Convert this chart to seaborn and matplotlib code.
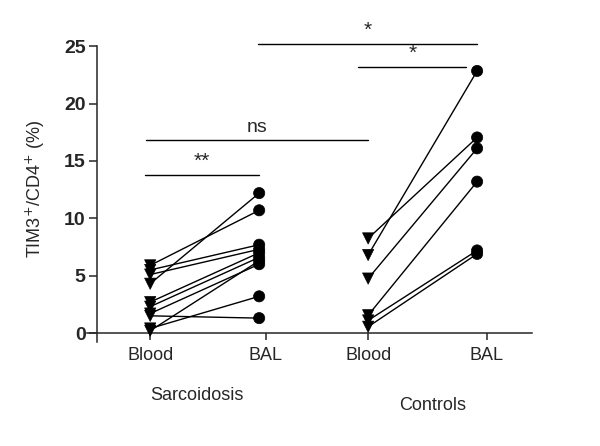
import numpy as np
import pandas as pd
import seaborn as sns
import matplotlib
matplotlib.use("Agg")
import matplotlib.pyplot as plt

sns.set_style("ticks")
plt.rcParams['font.family'] = ['Liberation Sans', 'DejaVu Sans']

# paired values, TIM3+/CD4+ (%)
sarc_blood = [5.9, 5.5, 5.1, 4.3, 2.7, 2.3, 1.7, 1.5, 0.4, 0.2]
sarc_bal = [10.7, 7.7, 7.3, 12.2, 7.0, 6.6, 6.0, 1.3, 3.2, 6.3]
ctrl_blood = [8.25, 6.8, 4.75, 1.55, 1.1, 0.55]
ctrl_bal = [17.05, 22.85, 16.1, 13.2, 7.2, 6.9]

tick_labels = ["Blood", "BAL", "Blood", "BAL"]
groups = ["Sarcoidosis", "Controls"]

# significance brackets: (x0, x1, y, label)
brackets = [(-0.05, 1.0, 13.8, "**"),
            (-0.04, 2.0, 16.8, "ns"),
            (1.91, 2.9, 23.2, "*"),
            (0.99, 3.0, 25.2, "*")]

rows = []
for i, (b, l) in enumerate(zip(sarc_blood, sarc_bal)):
    rows.append(dict(subj=f"s{i}", pos=0, val=b, tissue="Blood"))
    rows.append(dict(subj=f"s{i}", pos=1, val=l, tissue="BAL"))
for i, (b, l) in enumerate(zip(ctrl_blood, ctrl_bal)):
    rows.append(dict(subj=f"c{i}", pos=2, val=b, tissue="Blood"))
    rows.append(dict(subj=f"c{i}", pos=3, val=l, tissue="BAL"))
df = pd.DataFrame(rows)

fig = plt.figure(figsize=(6, 4.46), dpi=100)
ax = fig.add_axes([0.145, 0.2327, 0.741, 0.715])

sns.lineplot(data=df, x="pos", y="val", units="subj", estimator=None,
             color="black", lw=1, ax=ax, legend=False)
sns.scatterplot(data=df, x="pos", y="val", style="tissue",
                markers={"Blood": "v", "BAL": "o"}, color="black",
                s=65, edgecolor="black", linewidth=0.5, zorder=3,
                ax=ax, legend=False)

for x0, x1, y, lab in brackets:
    ax.plot([x0, x1], [y, y], color="black", lw=1, clip_on=False)
    ax.text((x0 + x1) / 2, y + 0.35, lab, ha="center", va="bottom",
            fontsize=14 if lab == "ns" else 15)

ax.set_xlim(-0.58, 3.5)
ax.set_ylim(-0.8, 27)
ax.spines['top'].set_visible(False)
ax.spines['right'].set_visible(False)
ax.spines['left'].set_position(('data', -0.49))
ax.spines['left'].set_bounds(-0.8, 25)
ax.spines['bottom'].set_position(('data', 0))
for sp in ['left', 'bottom']:
    ax.spines[sp].set_linewidth(1.1)

ax.set_yticks([0, 5, 10, 15, 20, 25])
ax.set_yticklabels(["0", "5", "10", "15", "20", "25"], fontsize=14,
                   fontweight="bold")
ax.set_xticks([0, 1.06, 2, 3.09])
ax.set_xticklabels(tick_labels, fontsize=13)
ax.tick_params(axis='y', length=6, width=1.1, pad=2)
ax.tick_params(axis='x', length=5, width=1.1, pad=5)
ax.set_xlabel("")
ax.set_ylabel(r"TIM3$^{+}$/CD4$^{+}$ (%)", fontsize=13, labelpad=8)
ax.yaxis.set_label_coords(-0.09, 0.48)

fig.text(197 / 600, 1 - 395 / 446, groups[0], ha="center", va="center",
         fontsize=13)
fig.text(433 / 600, 1 - 406 / 446, groups[1], ha="center", va="center",
         fontsize=13)

fig.savefig("out.png", dpi=100)
